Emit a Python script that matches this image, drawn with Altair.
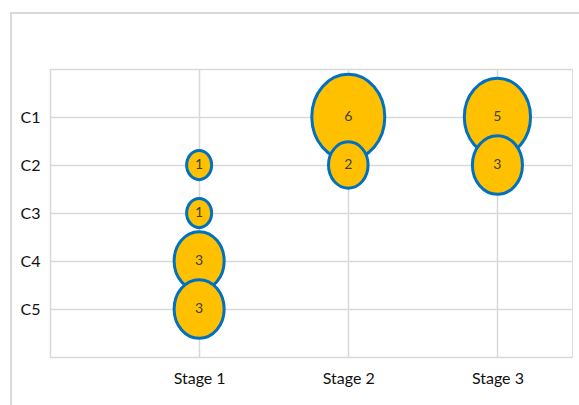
import altair as alt
import pandas as pd

stage_labels = ["Stage 1", "Stage 2", "Stage 3"]
category_labels = ["C1", "C2", "C3", "C4", "C5"]

# each bubble: stage index (1-based), category index (1-based), value
bubble_stage = [1, 1, 1, 1, 2, 2, 3, 3]
bubble_category = [2, 3, 4, 5, 1, 2, 1, 2]
bubble_value = [1, 1, 3, 3, 6, 2, 5, 3]

df = pd.DataFrame({
    "stage": bubble_stage,
    "cat": bubble_category,
    "value": bubble_value,
})

x_arr = "[" + ",".join("'" + s + "'" for s in stage_labels) + "]"
y_arr = "[" + ",".join("'" + s + "'" for s in category_labels) + "]"

FONT = "Lato"
GRID = "#d9d9d9"

x_enc = alt.X(
    "stage:Q",
    scale=alt.Scale(domain=[0, len(stage_labels) + 0.5], nice=False, zero=False),
    axis=alt.Axis(
        title=None, values=[0, 1, 2, 3], domain=False, ticks=False,
        grid=True, gridColor=GRID, gridWidth=1.5,
        labelExpr=f"datum.value >= 1 && datum.value <= {len(stage_labels)} ? {x_arr}[datum.value - 1] : ''",
        labelFont=FONT, labelFontSize=16, labelColor="#111111", labelPadding=13,
    ),
)
y_enc = alt.Y(
    "cat:Q",
    scale=alt.Scale(domain=[0, len(category_labels) + 1], reverse=True, nice=False, zero=False),
    axis=alt.Axis(
        title=None, values=[0, 1, 2, 3, 4, 5, 6], domain=False, ticks=False,
        grid=True, gridColor=GRID, gridWidth=1.5,
        labelExpr=f"datum.value >= 1 && datum.value <= {len(category_labels)} ? {y_arr}[datum.value - 1] : ''",
        labelFont=FONT, labelFontSize=16, labelColor="#111111", labelPadding=10,
    ),
)

ellipse = "M0,-1.17A1,1.17,0,1,1,0,1.17A1,1.17,0,1,1,0,-1.17Z"

base = alt.Chart(df)

bubbles = base.mark_point(
    shape=ellipse, filled=True, fill="#FFC000", stroke="#0070C0",
    strokeWidth=3, opacity=1, fillOpacity=1, strokeOpacity=1, clip=False,
).encode(
    x=x_enc, y=y_enc,
    size=alt.Size("value:Q", scale=alt.Scale(type="linear", domain=[1, 6], range=[625, 5329], zero=False), legend=None),
)

labels = base.mark_text(
    font=FONT, fontSize=14, color="#404040", baseline="middle", align="center",
).encode(
    x=alt.X("stage:Q"), y=alt.Y("cat:Q"), text=alt.Text("value:Q"),
)

frame_v = alt.Chart(df).mark_rule(color=GRID, strokeWidth=2).encode(
    x=alt.value(-39), y=alt.value(-56), y2=alt.value(340)
)
frame_h = alt.Chart(df).mark_rule(color=GRID, strokeWidth=2).encode(
    x=alt.value(-40), x2=alt.value(540), y=alt.value(-56)
)

chart = alt.layer(frame_v, frame_h, bubbles, labels).properties(
    width=522, height=288,
    padding={"left": 50, "top": 69, "right": 7, "bottom": 48},
    autosize=alt.AutoSizeParams(type="none"),
).configure_view(stroke=None).configure(background="white")

chart.save("out.html", embed_options={"renderer": "svg", "actions": False})
